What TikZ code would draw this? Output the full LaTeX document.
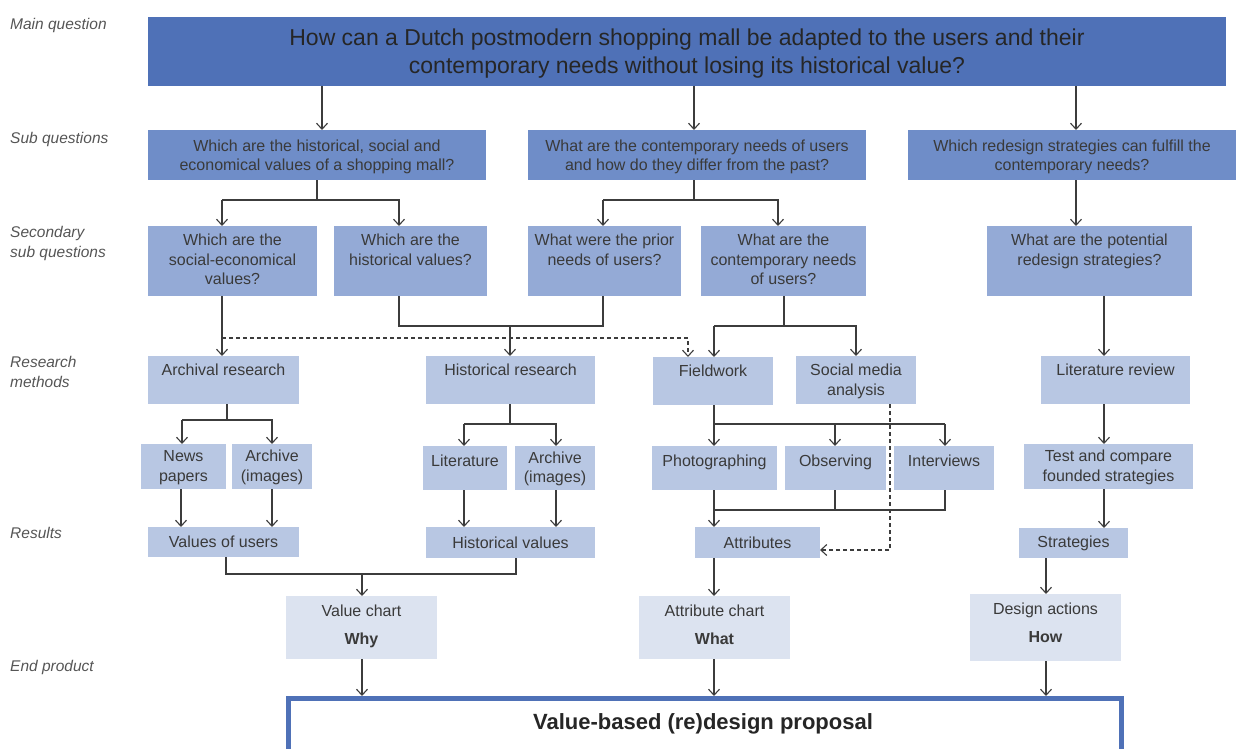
\documentclass[tikz,border=0pt]{standalone}
\usepackage{fontspec}
\setmainfont{Liberation Sans}
\usetikzlibrary{arrows.meta,calc}
\definecolor{cmain}{HTML}{4F71B7}
\definecolor{csub}{HTML}{6F8DC8}
\definecolor{csec}{HTML}{94AAD6}
\definecolor{cmeth}{HTML}{B8C7E3}
\definecolor{cend}{HTML}{DCE3F0}
\definecolor{ctxt}{HTML}{3A3A3A}
\definecolor{cline}{HTML}{3C3C3C}
\definecolor{clab}{HTML}{555555}
\newcommand\bx[6]{\node[fill=#6, draw=none, inner sep=0, outer sep=0, minimum width=#4pt-#2pt, minimum height=#5pt-#3pt, anchor=north west] (#1) at (#2,#3) {};}
\tikzset{
  txt/.style={text=ctxt, align=center, inner sep=0, font=\fontsize{16}{19.5}\selectfont},
  lab/.style={text=clab, align=left, inner sep=0, anchor=north west, font=\fontsize{15.5}{20}\selectfont\itshape},
  tip/.style={-{Straight Barb[length=6pt,width=11pt,line width=1.1pt]}},
  arr/.style={draw=cline, line width=1.1pt, tip},
  ln/.style={draw=cline, line width=1.1pt},
  dsh/.style={draw=cline, line width=1.1pt, dash pattern=on 4pt off 3pt}
}
\begin{document}
\begin{tikzpicture}[x=1pt,y=-1pt]
\useasboundingbox (0,0) rectangle (1237,749);
% left labels
\node[lab] (l1) at (10,18) {Main question};
\node[lab] (l2) at (10,132) {Sub questions};
\node[lab] (l3) at (10,226) {Secondary\\sub questions};
\node[lab] (l4) at (10,356) {Research\\methods};
\node[lab] (l5) at (10,527) {Results};
\node[lab] (l6) at (10,660) {End product};
% boxes
\bx{main}{148}{17}{1226}{86}{cmain}
\bx{sub1}{148}{130}{486}{180}{csub}
\bx{sub2}{528}{130}{866}{180}{csub}
\bx{sub3}{908}{130}{1236}{180}{csub}
\bx{sq1}{148}{226}{317}{296}{csec}
\bx{sq2}{334}{226}{487}{296}{csec}
\bx{sq3}{528}{226}{681}{296}{csec}
\bx{sq4}{701}{226}{866}{296}{csec}
\bx{sq5}{987}{226}{1192}{296}{csec}
\bx{arch}{148}{356}{299}{404}{cmeth}
\bx{hist}{426}{356}{595}{404}{cmeth}
\bx{field}{653}{357}{773}{405}{cmeth}
\bx{social}{796}{356}{916}{404}{cmeth}
\bx{litrev}{1041}{356}{1190}{404}{cmeth}
\bx{news}{141}{444}{226}{489}{cmeth}
\bx{archA}{232}{444}{312}{489}{cmeth}
\bx{lit}{423}{446}{507}{490}{cmeth}
\bx{archB}{515}{446}{595}{490}{cmeth}
\bx{photo}{652}{446}{777}{490}{cmeth}
\bx{obs}{785}{446}{886}{490}{cmeth}
\bx{intv}{894}{446}{994}{490}{cmeth}
\bx{test}{1024}{444}{1193}{489}{cmeth}
\bx{vals}{148}{527}{299}{557}{cmeth}
\bx{histv}{426}{527}{595}{558}{cmeth}
\bx{attr}{695}{527}{820}{558}{cmeth}
\bx{strat}{1019}{528}{1128}{558}{cmeth}
\bx{vchart}{286}{596}{437}{659}{cend}
\bx{achart}{639}{596}{790}{659}{cend}
\bx{dact}{970}{594}{1121}{661}{cend}
\node[draw=cmain, line width=5pt, fill=white, inner sep=0, outer sep=0, minimum width=833pt, minimum height=64pt, anchor=north west] (final) at (288.5,698.5) {};
% texts
\node[txt, text=black!85, font=\fontsize{23}{28}\selectfont] (t-main) at ([yshift=-2pt]main.center) {How can a Dutch postmodern shopping mall be adapted to the users and their\\contemporary needs without losing its historical value?};
\node[txt] (t-sub1) at ([yshift=-2pt]sub1.center) {Which are the historical, social and\\economical values of a shopping mall?};
\node[txt] (t-sub2) at ([yshift=-2pt]sub2.center) {What are the contemporary needs of users\\and how do they differ from the past?};
\node[txt] (t-sub3) at ([yshift=-2pt]sub3.center) {Which redesign strategies can fulfill the\\contemporary needs?};
\node[txt, anchor=north] (t-sq1) at ([yshift=-8pt]sq1.north) {Which are the\\social-economical\\values?};
\node[txt, anchor=north] (t-sq2) at ([yshift=-8pt]sq2.north) {Which are the\\historical values?};
\node[txt, anchor=north] (t-sq3) at ([yshift=-8pt]sq3.north) {What were the prior\\needs of users?};
\node[txt, anchor=north] (t-sq4) at ([yshift=-8pt]sq4.north) {What are the\\contemporary needs\\of users?};
\node[txt, anchor=north] (t-sq5) at ([yshift=-8pt]sq5.north) {What are the potential\\redesign strategies?};
\node[txt, anchor=north] (t-arch) at ([yshift=-8pt]arch.north) {Archival research};
\node[txt, anchor=north] (t-hist) at ([yshift=-8pt]hist.north) {Historical research};
\node[txt, anchor=north] (t-field) at ([yshift=-8pt]field.north) {Fieldwork};
\node[txt, anchor=north] (t-social) at ([yshift=-8pt]social.north) {Social media\\analysis};
\node[txt, anchor=north] (t-litrev) at ([yshift=-8pt]litrev.north) {Literature review};
\node[txt] (t-news) at ([yshift=-1pt]news.center) {News\\papers};
\node[txt] (t-archA) at ([yshift=-1pt]archA.center) {Archive\\(images)};
\node[txt, anchor=north] (t-lit) at ([yshift=-9pt]lit.north) {Literature};
\node[txt] (t-archB) at ([yshift=-1pt]archB.center) {Archive\\(images)};
\node[txt, anchor=north] (t-photo) at ([yshift=-9pt]photo.north) {Photographing};
\node[txt, anchor=north] (t-obs) at ([yshift=-9pt]obs.north) {Observing};
\node[txt, anchor=north] (t-intv) at ([yshift=-9pt]intv.north) {Interviews};
\node[txt] (t-test) at ([yshift=-1pt]test.center) {Test and compare\\founded strategies};
\node[txt] (t-vals) at (vals.center) {Values of users};
\node[txt] (t-histv) at (histv.center) {Historical values};
\node[txt] (t-attr) at (attr.center) {Attributes};
\node[txt] (t-strat) at (strat.center) {Strategies};
\node[txt, anchor=north] (t-vchart) at ([yshift=-9pt]vchart.north) {Value chart\\[8pt]\textbf{Why}};
\node[txt, anchor=north] (t-achart) at ([yshift=-9pt]achart.north) {Attribute chart\\[8pt]\textbf{What}};
\node[txt, anchor=north] (t-dact) at ([yshift=-9pt]dact.north) {Design actions\\[8pt]\textbf{How}};
\node[txt, text=black!85, font=\fontsize{22}{26}\selectfont\bfseries] (t-final) at (703,724) {Value-based (re)design proposal};
% connectors: main -> sub
\draw[arr] (main.south -| 322,0) -- (sub1.north -| 322,0);
\draw[arr] (main.south -| 694,0) -- (sub2.north -| 694,0);
\draw[arr] (main.south -| 1076,0) -- (sub3.north -| 1076,0);
% sub -> secondary
\draw[ln] (sub1.south -| 317,0) -- (317,200);
\draw[arr] (222,200) -- (sq1.north -| 222,0);
\draw[arr] (222,200) -- (399,200) -- (sq2.north -| 399,0);
\draw[ln] (sub2.south -| 694,0) -- (694,200);
\draw[arr] (603,200) -- (sq3.north -| 603,0);
\draw[arr] (603,200) -- (778,200) -- (sq4.north -| 778,0);
\draw[arr] (sub3.south -| 1076,0) -- (sq5.north -| 1076,0);
% secondary -> methods
\draw[arr] (sq1.south -| 222,0) -- (arch.north -| 222,0);
\draw[ln] (sq2.south -| 399,0) -- (399,326) -- (603,326) -- (sq3.south -| 603,0);
\draw[arr] (510,326) -- (hist.north -| 510,0);
\draw[dsh, tip] (222,338) -- (688,338) -- (field.north -| 688,0);
\draw[ln] (sq4.south -| 784,0) -- (784,326);
\draw[arr] (714,326) -- (field.north -| 714,0);
\draw[arr] (714,326) -- (856,326) -- (social.north -| 856,0);
\draw[arr] (sq5.south -| 1104,0) -- (litrev.north -| 1104,0);
% methods -> sub-methods
\draw[ln] (arch.south -| 227,0) -- (227,420);
\draw[arr] (182,420) -- (news.north -| 182,0);
\draw[arr] (182,420) -- (272,420) -- (archA.north -| 272,0);
\draw[ln] (hist.south -| 510,0) -- (510,424);
\draw[arr] (464,424) -- (lit.north -| 464,0);
\draw[arr] (464,424) -- (556,424) -- (archB.north -| 556,0);
\draw[arr] (field.south -| 714,0) -- (photo.north -| 714,0);
\draw[ln] (714,424) -- (945,424);
\draw[arr] (835,424) -- (obs.north -| 835,0);
\draw[arr] (945,424) -- (intv.north -| 945,0);
\draw[arr] (litrev.south -| 1104,0) -- (test.north -| 1104,0);
% sub-methods -> results
\draw[arr] (news.south -| 181,0) -- (vals.north -| 181,0);
\draw[arr] (archA.south -| 272,0) -- (vals.north -| 272,0);
\draw[arr] (lit.south -| 464,0) -- (histv.north -| 464,0);
\draw[arr] (archB.south -| 556,0) -- (histv.north -| 556,0);
\draw[arr] (photo.south -| 714,0) -- (attr.north -| 714,0);
\draw[ln] (obs.south -| 835,0) -- (835,510);
\draw[ln] (intv.south -| 945,0) -- (945,510) -- (714,510);
\draw[dsh, tip] (social.south -| 890,0) -- (890,550) -- (attr.east |- 0,550);
\draw[arr] (test.south -| 1104,0) -- (strat.north -| 1104,0);
% results -> end products
\draw[ln] (vals.south -| 226,0) -- (226,574) -- (516,574) -- (histv.south -| 516,0);
\draw[arr] (362,574) -- (vchart.north -| 362,0);
\draw[arr] (attr.south -| 714,0) -- (achart.north -| 714,0);
\draw[arr] (strat.south -| 1046,0) -- (dact.north -| 1046,0);
% end products -> final
\draw[arr] (vchart.south -| 362,0) -- (362,696);
\draw[arr] (achart.south -| 714,0) -- (714,696);
\draw[arr] (dact.south -| 1046,0) -- (1046,696);
\end{tikzpicture}
\end{document}
